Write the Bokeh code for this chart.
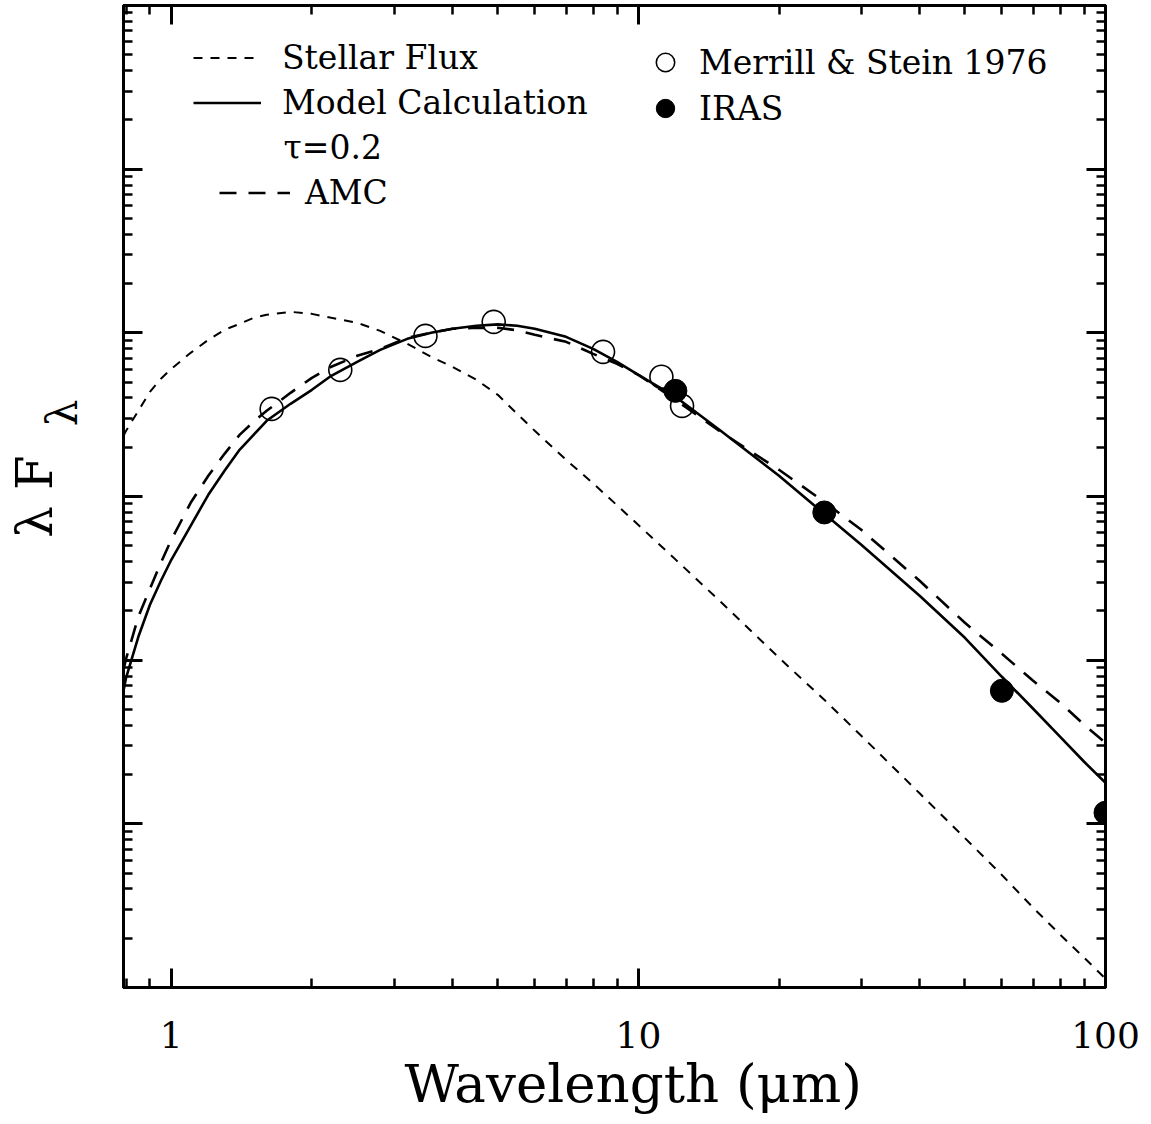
from bokeh.plotting import figure
from bokeh.models import (LogAxis, FixedTicker, Label, Legend, LegendItem, Title,
                          CustomJSTickFormatter, BasicTickFormatter, Range1d)
from bokeh.embed import file_html
from bokeh.resources import INLINE

# ---- data (arbitrary flux units) ----
wavelength = [0.79, 0.8, 0.85, 0.9, 0.95, 1.0, 1.1, 1.2, 1.3, 1.4, 1.5, 1.6,
              1.8, 2.0, 2.2, 2.5, 2.8, 3.2, 3.6, 4.0, 4.5, 5.0, 5.5, 6.0, 7.0,
              8.0, 9.0, 10, 12, 15, 20, 25, 30, 40, 50, 60, 70, 80, 90, 100]
stellar_flux = [0.2349, 0.2519, 0.3340, 0.4361, 0.5236, 0.6026, 0.7548,
                0.9063, 1.043, 1.135, 1.235, 1.288, 1.344, 1.306, 1.235,
                1.151, 1.028, 0.8567, 0.7136, 0.620, 0.5163, 0.4181, 0.3201,
                0.2519, 0.1676, 0.1202, 0.08837, 0.06697, 0.04128, 0.02274,
                0.01034, 0.005729, 0.003452, 0.001536, 0.000819, 0.000487,
                0.0003073, 0.0002102, 0.0001521, 0.0001132]
model_flux = [0.006502, 0.007808, 0.01390, 0.02180, 0.03055, 0.04105, 0.06622,
              0.1024, 0.1436, 0.1929, 0.2381, 0.2901, 0.3684, 0.4486, 0.5462,
              0.6650, 0.7873, 0.9191, 1.0, 1.058, 1.104, 1.127, 1.104, 1.058,
              0.9453, 0.7985, 0.6650, 0.5539, 0.4064, 0.2519, 0.1338, 0.07837,
              0.05069, 0.02474, 0.01370, 0.007916, 0.005047, 0.003403,
              0.002395, 0.001783]
amc_flux = [0.008737, 0.01020, 0.01841, 0.02730, 0.03936, 0.05439, 0.09152,
            0.1338, 0.1823, 0.2381, 0.2860, 0.3340, 0.4300, 0.5311, 0.620,
            0.7237, 0.7985, 0.932, 1.0, 1.058, 1.073, 1.073, 1.036, 0.9723,
            0.8811, 0.7440, 0.6465, 0.5539, 0.3897, 0.2485, 0.1456, 0.09282,
            0.06258, 0.03055, 0.01692, 0.01094, 0.007484, 0.005494, 0.004031,
            0.003129]

ms_wave = [1.64, 2.3, 3.5, 4.9, 8.4, 11.2, 12.4]
ms_flux = [0.343, 0.594, 0.958, 1.167, 0.765, 0.539, 0.358]

iras_wave = [12, 25, 60, 100]
iras_flux = [0.442, 0.0799, 0.0065, 0.00117]

x_major = [1, 10, 100]
x_minor = [0.8, 0.9] + [m * d for d in (1, 10) for m in range(2, 10)]
y_major = [1e-4, 1e-3, 1e-2, 1e-1, 1, 10, 100]
y_minor = [m * d for d in (1e-4, 1e-3, 1e-2, 1e-1, 1, 10) for m in range(2, 10)]

SERIF = "DejaVu Serif"
SUB_LAMBDA_AT = 0.3245   # vertical placement of the subscript in the y title

p = figure(width=1151, height=1124, x_axis_type="log", y_axis_type="log",
           x_range=Range1d(0.79, 100), y_range=Range1d(1e-4, 1e2),
           output_backend="svg", toolbar_location=None,
           min_border_left=123, min_border_right=46,
           min_border_top=5, min_border_bottom=137)
p.background_fill_color = "white"
p.border_fill_color = "white"
p.grid.visible = False
p.outline_line_color = "black"
p.outline_line_width = 3

# extra axes (top/right) for mirrored ticks
p.add_layout(LogAxis(), "above")
p.add_layout(LogAxis(), "right")

for ax in p.xaxis:
    ax.ticker = FixedTicker(ticks=x_major, minor_ticks=x_minor)
for ax in p.yaxis:
    ax.ticker = FixedTicker(ticks=y_major, minor_ticks=y_minor)

for ax in p.axis:
    ax.axis_line_width = 3
    ax.axis_line_color = "black"
    ax.major_tick_in = 19
    ax.major_tick_out = 0
    ax.minor_tick_in = 9
    ax.minor_tick_out = 0
    ax.major_tick_line_width = 3
    ax.minor_tick_line_width = 2.5
    ax.major_tick_line_color = "black"
    ax.minor_tick_line_color = "black"
    ax.formatter = CustomJSTickFormatter(code="return '';")
    ax.major_label_text_font_size = "2px"
    ax.major_label_standoff = 0

bottom = p.below[0]
bottom.formatter = BasicTickFormatter()
bottom.major_label_text_font_size = "36px"
bottom.major_label_text_font = SERIF
bottom.major_label_text_color = "black"
bottom.major_label_standoff = 34

# y title: "λ F" with subscript λ, carried by an extra, tick-less left axis
ylab = LogAxis(ticker=FixedTicker(ticks=[SUB_LAMBDA_AT], minor_ticks=[]),
               formatter=CustomJSTickFormatter(code="return 'λ';"),
               axis_line_color=None, major_tick_line_color=None,
               minor_tick_line_color=None, major_tick_in=0, major_tick_out=0,
               minor_tick_in=0, minor_tick_out=0,
               major_label_orientation="parallel",
               major_label_text_font=SERIF, major_label_text_font_size="42px",
               major_label_text_color="black", major_label_standoff=36,
               axis_label="λ F", axis_label_text_font=SERIF,
               axis_label_text_font_size="50px",
               axis_label_text_font_style="normal",
               axis_label_text_color="black", axis_label_standoff=-28)
p.add_layout(ylab, "left")

# x title
p.add_layout(Title(text="Wavelength (μm)", align="left", offset=281,
                   vertical_align="bottom", standoff=0, text_font=SERIF,
                   text_font_size="53px", text_font_style="normal",
                   text_color="black"), "below")

# ---- curves ----
r_star = p.line(wavelength, stellar_flux, line_color="black", line_width=2,
                line_dash="9 8")
r_model = p.line(wavelength, model_flux, line_color="black", line_width=2.6)
r_amc = p.line(wavelength, amc_flux, line_color="black", line_width=2.6,
               line_dash="17 12")

r_ms = p.scatter(ms_wave, ms_flux, marker="circle", size=23,
                 fill_color="white", fill_alpha=0, line_color="black",
                 line_width=1.6)
r_iras = p.scatter(iras_wave, iras_flux, marker="circle", size=23,
                   fill_color="black", line_color="black")

# ---- legends ----
common = dict(spacing=0, padding=0, border_line_color=None,
              background_fill_alpha=0, label_text_font=SERIF,
              label_text_font_size="33px", label_text_color="black")

leg_a = Legend(items=[LegendItem(label="Stellar Flux", renderers=[r_star]),
                      LegendItem(label="Model Calculation", renderers=[r_model])],
               location=(70, 862), glyph_width=68, glyph_height=45,
               label_height=45, label_standoff=21, **common)
leg_b = Legend(items=[LegendItem(label="AMC", renderers=[r_amc])],
               location=(96, 772), glyph_width=71, glyph_height=45,
               label_height=45, label_standoff=15, **common)
leg_c = Legend(items=[LegendItem(label="Merrill & Stein 1976", renderers=[r_ms]),
                      LegendItem(label="IRAS", renderers=[r_iras])],
               location=(518, 856), glyph_width=48, glyph_height=46,
               label_height=46, label_standoff=10, **common)
for lg in (leg_a, leg_b, leg_c):
    p.add_layout(lg)

p.add_layout(Label(x=160, y=840, x_units="screen", y_units="screen",
                   text="τ=0.2", text_align="left", text_baseline="middle",
                   text_font=SERIF, text_font_size="33px", text_color="black"))

open("out.html", "w").write(file_html(p, INLINE))
